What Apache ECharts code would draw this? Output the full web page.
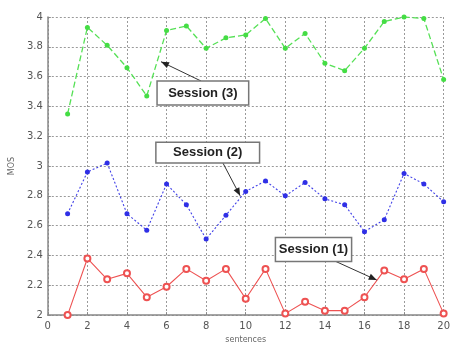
<!DOCTYPE html>
<html>
<head>
<meta charset="utf-8">
<script src="https://cdn.jsdelivr.net/npm/echarts@6/dist/echarts.min.js"></script>
<style>
  html, body { margin: 0; padding: 0; background: #fff; }
  #chart { width: 453px; height: 349px; }
</style>
</head>
<body>
<div id="chart"></div>
<script>
// sentence index on x
const sentences = [1, 2, 3, 4, 5, 6, 7, 8, 9, 10, 11, 12, 13, 14, 15, 16, 17, 18, 19, 20]
// MOS per session
const session1 = [2.00, 2.38, 2.24, 2.28, 2.12, 2.19, 2.31, 2.23, 2.31, 2.11, 2.31, 2.01, 2.09, 2.03, 2.03, 2.12, 2.30, 2.24, 2.31, 2.01]
const session2 = [2.68, 2.96, 3.02, 2.68, 2.57, 2.88, 2.74, 2.51, 2.67, 2.83, 2.90, 2.80, 2.89, 2.78, 2.74, 2.56, 2.64, 2.95, 2.88, 2.76]
const session3 = [3.35, 3.93, 3.81, 3.66, 3.47, 3.91, 3.94, 3.79, 3.86, 3.88, 3.99, 3.79, 3.89, 3.69, 3.64, 3.79, 3.97, 4.00, 3.99, 3.58]

const xTicks = { min: 0, max: 20, step: 2 }
const yTicks = { min: 2, max: 4, step: 0.2 }

// callouts, placed in data units
const notes = [
  { text: 'Session (3)', box: [5.52, 3.57, 10.15, 3.41], from: [7.75, 3.57], to: [5.72, 3.70] },
  { text: 'Session (2)', box: [5.46, 3.16, 10.70, 3.02], from: [8.85, 3.02], to: [9.72, 2.80] },
  { text: 'Session (1)', box: [11.5, 2.52, 15.35, 2.36], from: [14.55, 2.36], to: [16.62, 2.235] },
]

const pair = arr => sentences.map((x, i) => [x, arr[i]])

const chart = echarts.init(document.getElementById('chart'))

const gridLine = { show: true, lineStyle: { color: '#9a9a9a', type: [2, 2], width: 1 } }
const axisText = { color: '#555', fontSize: 10, fontFamily: 'DejaVu Sans' }

chart.setOption({
  animation: false,
  grid: { left: 43, right: 4, top: 17, bottom: 23 },
  xAxis: {
    type: 'value',
    min: xTicks.min, max: xTicks.max, interval: xTicks.step,
    name: 'sentences', nameLocation: 'middle', nameGap: 15,
    nameTextStyle: { color: '#666', fontSize: 8, fontFamily: 'DejaVu Sans' },
    axisLine: { lineStyle: { color: '#888', width: 1.5 } },
    axisTick: { inside: true, length: 3, lineStyle: { color: '#888' } },
    axisLabel: Object.assign({ margin: 6 }, axisText),
    splitLine: gridLine,
  },
  yAxis: {
    type: 'value',
    min: yTicks.min, max: yTicks.max, interval: yTicks.step,
    name: 'MOS', nameLocation: 'middle', nameGap: 24,
    nameTextStyle: { color: '#666', fontSize: 8, fontFamily: 'DejaVu Sans' },
    axisLine: { show: true, lineStyle: { color: '#888', width: 1.5 } },
    axisTick: { show: true, inside: true, length: 3, lineStyle: { color: '#888' } },
    axisLabel: Object.assign({ margin: 5, formatter: v => String(+v.toFixed(1)) }, axisText),
    splitLine: gridLine,
  },
  series: [
    {
      name: 'Session (1)', type: 'line', data: pair(session1),
      symbol: 'emptyCircle', symbolSize: 6,
      lineStyle: { color: '#ee5252', width: 1.1 },
      itemStyle: { color: '#ee5252', borderWidth: 1 },
    },
    {
      name: 'Session (2)', type: 'line', data: pair(session2),
      symbol: 'circle', symbolSize: 5,
      lineStyle: { color: '#4040e8', width: 1.1, type: [2, 2] },
      itemStyle: { color: '#2f2fe6' },
    },
    {
      name: 'Session (3)', type: 'line', data: pair(session3),
      symbol: 'circle', symbolSize: 5,
      lineStyle: { color: '#55e055', width: 1.3, type: [6, 3] },
      itemStyle: { color: '#44dd44' },
    },
  ],
})

// draw the callout boxes and arrows
const toPx = p => chart.convertToPixel({ gridIndex: 0 }, p)
const graphic = []
notes.forEach(n => {
  const a = toPx([n.box[0], n.box[1]])
  const b = toPx([n.box[2], n.box[3]])
  const f = toPx(n.from)
  const t = toPx(n.to)
  graphic.push({
    type: 'line', z: 10,
    shape: { x1: f[0], y1: f[1], x2: t[0], y2: t[1] },
    style: { stroke: '#333', lineWidth: 1 },
  })
  const ang = Math.atan2(t[1] - f[1], t[0] - f[0])
  const len = 8, half = 3.2
  const bx = t[0] - len * Math.cos(ang), by = t[1] - len * Math.sin(ang)
  graphic.push({
    type: 'polygon', z: 11,
    shape: { points: [
      t,
      [bx + half * Math.sin(ang), by - half * Math.cos(ang)],
      [bx - half * Math.sin(ang), by + half * Math.cos(ang)],
    ] },
    style: { fill: '#222' },
  })
  graphic.push({
    type: 'rect', z: 12,
    shape: { x: a[0], y: a[1], width: b[0] - a[0], height: b[1] - a[1] },
    style: { fill: '#fff', stroke: '#777', lineWidth: 1.5 },
  })
  graphic.push({
    type: 'text', z: 13,
    x: (a[0] + b[0]) / 2, y: (a[1] + b[1]) / 2,
    style: {
      text: n.text, align: 'center', verticalAlign: 'middle',
      fill: '#222', font: 'bold 13px "Liberation Sans"',
    },
  })
})
chart.setOption({ graphic: graphic })
</script>
</body>
</html>
